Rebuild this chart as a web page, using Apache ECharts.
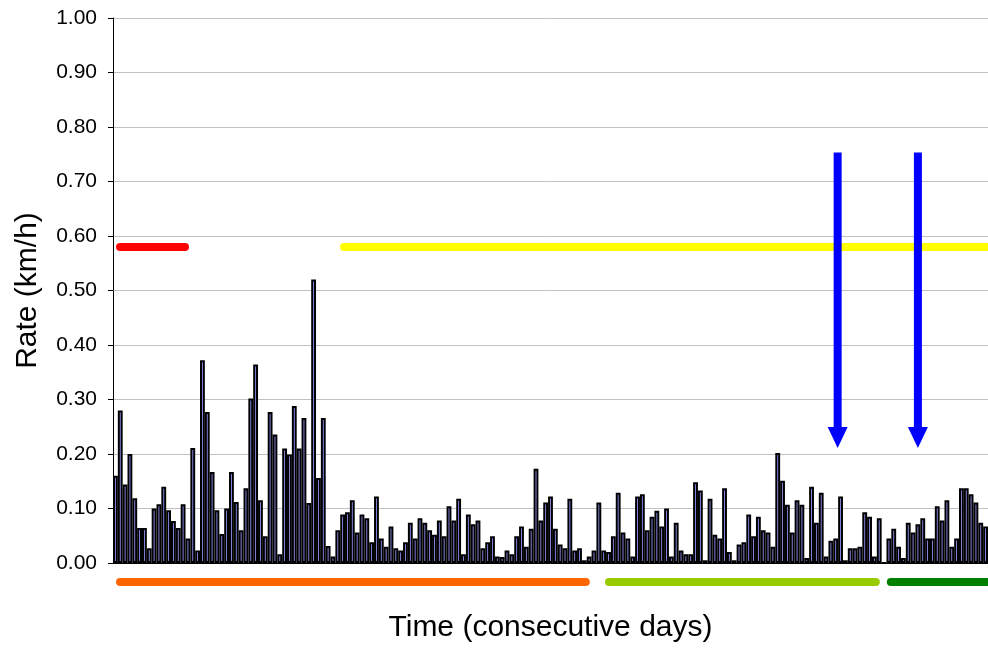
<!DOCTYPE html>
<html>
<head>
<meta charset="utf-8">
<script src="https://cdn.jsdelivr.net/npm/echarts@6/dist/echarts.min.js"></script>
<style>html,body{margin:0;padding:0;background:#fff}#c{width:988px;height:648px}</style>
</head>
<body>
<div id="c"></div>
<script>
// Daily rate values (km/h), one per consecutive day
const rates = [
0.16,0.28,0.144,0.20,0.119,0.064,0.064,0.027,0.10,0.108,0.14,0.097,0.077,0.064,0.108,0.045,0.211,0.023,0.372,0.277,0.167,0.097,0.053,
0.10,0.167,0.112,0.060,0.137,0.302,0.364,0.115,0.049,0.277,0.236,0.016,0.21,0.199,0.288,0.21,0.266,0.11,0.52,0.156,0.266,0.031,0.012,
0.060,0.089,0.093,0.115,0.056,0.089,0.082,0.038,0.122,0.045,0.030,0.067,0.027,0.023,0.038,0.074,0.045,0.082,0.074,0.060,0.052,0.078,
0.049,0.104,0.078,0.118,0.016,0.089,0.071,0.078,0.027,0.038,0.049,0.012,0.011,0.023,0.016,0.049,0.067,0.030,0.063,0.173,0.078,0.111,0.122,
0.063,0.034,0.027,0.118,0.023,0.027,0.005,0.012,0.023,0.111,0.023,0.020,0.049,0.129,0.056,0.045,0.012,0.122,0.126,0.060,0.085,0.096,0.067,
0.100,0.012,0.074,0.023,0.016,0.016,0.148,0.133,0.005,0.118,0.052,0.045,0.137,0.020,0.005,0.034,0.038,0.089,0.049,0.085,0.060,0.056,0.030,
0.202,0.151,0.107,0.056,0.115,0.107,0.009,0.140,0.074,0.129,0.012,0.041,0.045,0.122,0.005,0.027,0.027,0.030,0.093,0.085,0.012,0.082,
0,0.045,0.063,0.030,0.009,0.074,0.056,0.071,0.082,0.045,0.045,0.104,0.078,0.115,0.030,0.045,0.137,0.137,0.126,0.111,0.074,0.067
];
const days = rates.map((_, i) => String(i + 1));
const yTicks = { min: 0, max: 1, interval: 0.1 };

// Reference levels (day range, rate)
const redLevel = [[1.45, 0.58], [14.9, 0.58]];
const yellowLevel = [[47.8, 0.58], [190, 0.58]];
// Arrows (day, from rate, to rate)
const arrows = [[149.9, 0.753, 0.235], [166.5, 0.753, 0.235]];
// Period bars below the axis (day range)
const periodY = -0.035;
const orangePeriod = [[1.45, periodY], [97.8, periodY]];
const lightGreenPeriod = [[102.6, periodY], [157.8, periodY]];
const darkGreenPeriod = [[160.9, periodY], [190, periodY]];

const FONT = 'Arial, "Liberation Sans", sans-serif';

function seg(data, color) {
  return {
    type: 'line', xAxisIndex: 1, yAxisIndex: 0, data: data, clip: false,
    symbol: 'none', silent: true, z: 5,
    lineStyle: { color: color, width: 8, cap: 'round' }
  };
}
function arrow(a) {
  return {
    type: 'line', xAxisIndex: 1, yAxisIndex: 0, clip: false, silent: true, z: 6,
    lineStyle: { color: '#0000FF', width: 8, cap: 'butt' },
    data: [
      { value: [a[0], a[1]], symbol: 'none' },
      { value: [a[0], a[2]], symbol: 'none' }
    ],
    markPoint: {
      silent: true,
      symbol: 'triangle', symbolSize: [20, 21], symbolRotate: 180,
      itemStyle: { color: '#0000FF' },
      label: { show: false },
      data: [{ coord: [a[0], a[2] - 0.0045] }]
    }
  };
}

const chart = echarts.init(document.getElementById('c'), null, { renderer: 'canvas' });
chart.setOption({
  animation: false,
  backgroundColor: '#fff',
  grid: { left: 113, right: 0, top: 18, bottom: 83, containLabel: false },
  xAxis: [
    {
      type: 'category', data: days, boundaryGap: true,
      axisLine: { lineStyle: { color: '#000', width: 1 } },
      axisTick: { show: false }, axisLabel: { show: false },
      splitLine: { show: false },
      name: 'Time (consecutive days)', nameLocation: 'middle', nameGap: 50,
      nameTextStyle: { fontFamily: FONT, fontSize: 30, color: '#000' }
    },
    { type: 'value', min: 0, max: rates.length, show: false }
  ],
  yAxis: [{
    type: 'value', min: yTicks.min, max: yTicks.max, interval: yTicks.interval,
    axisLine: { show: true, lineStyle: { color: '#000', width: 1 } },
    axisTick: { show: true, length: 5, lineStyle: { color: '#000' } },
    axisLabel: { fontFamily: FONT, fontSize: 21, color: '#000', margin: 16,
      formatter: v => v.toFixed(2) },
    splitLine: { show: true, lineStyle: { color: '#C0C0C0', width: 1 } },
    name: 'Rate (km/h)', nameLocation: 'middle', nameGap: 70,
    nameTextStyle: { fontFamily: FONT, fontSize: 30, color: '#000' }
  }],
  series: [
    {
      type: 'bar', data: rates, barCategoryGap: '0%', z: 2,
      itemStyle: { color: '#9999FF', borderColor: '#000', borderWidth: 2 },
      silent: true
    },
    seg(redLevel, '#FF0000'),
    seg(yellowLevel, '#FFFF00'),
    seg(orangePeriod, '#FF6600'),
    seg(lightGreenPeriod, '#99CC00'),
    seg(darkGreenPeriod, '#008000'),
    arrow(arrows[0]),
    arrow(arrows[1])
  ]
});
</script>
</body>
</html>
